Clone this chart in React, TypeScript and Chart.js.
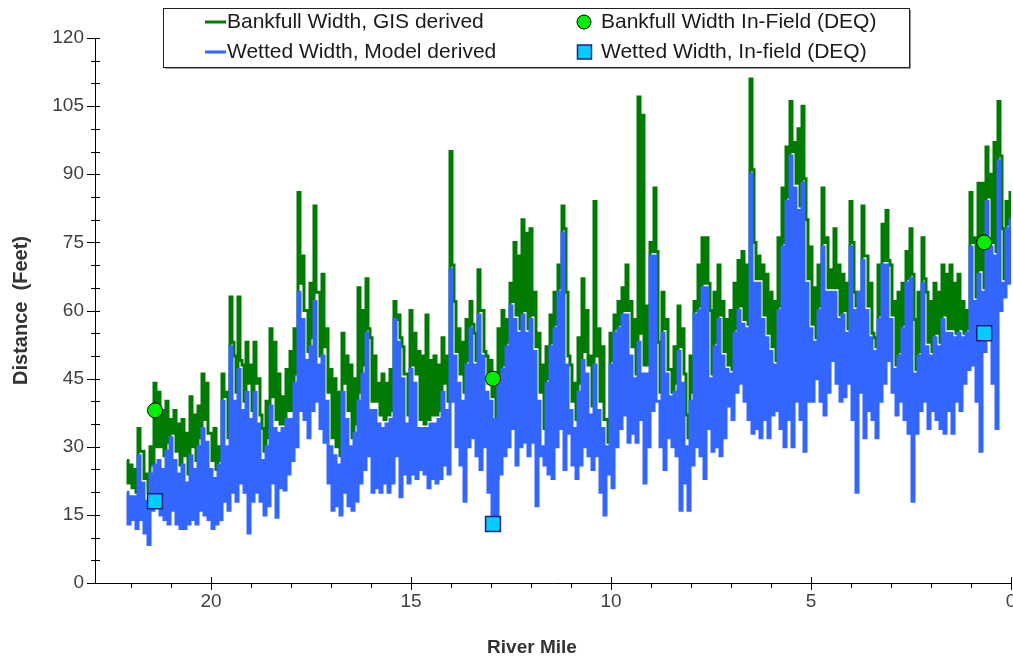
import React, { useEffect, useRef } from 'react';
import { Chart, registerables } from 'chart.js';

Chart.register(...registerables);

// River-mile sampling of the two modelled series (upstream -> downstream)
const START_MILE = 22.1;
const MILE_STEP = 0.05;

// Bankfull Width, GIS derived (feet) — one row per river mile
const bankfullGIS: number[] = [
  27, 22,
  26, 21, 25, 20, 34, 29, 29, 23, 24, 20, 30, 26, 44, 30, 42, 30, 38, 28, 40, 31,
  36, 33, 38, 29, 35, 26, 36, 28, 33, 24, 41, 30, 37, 27, 39, 32, 46, 36, 44, 33,
  33, 27, 34, 25, 30, 27, 46, 41, 42, 32, 63, 53, 50, 42, 63, 49, 48, 40, 53, 44,
  48, 38, 53, 44, 45, 37, 34, 29, 40, 32, 56, 41, 53, 36, 46, 35, 41, 35, 47, 38,
  51, 38, 56, 46, 86, 66, 72, 60, 60, 51, 66, 54, 83, 64, 64, 50, 68, 52, 56, 42,
  47, 32, 45, 30, 42, 28, 55, 44, 50, 38, 48, 32, 45, 35, 65, 42, 60, 48, 67, 56,
  54, 40, 50, 40, 44, 37, 46, 36, 44, 37, 47, 38, 62, 58, 59, 54, 52, 46, 46, 37,
  60, 48, 55, 46, 51, 36, 50, 35, 59, 36, 49, 37, 50, 37, 48, 38, 54, 44, 50, 40,
  95, 70, 62, 51, 56, 46, 53, 42, 58, 49, 62, 57, 55, 49, 69, 60, 60, 51, 50, 44,
  49, 41, 46, 23, 56, 45, 60, 48, 58, 53, 66, 62, 75, 59, 72, 56, 80, 60, 77, 56,
  78, 59, 64, 52, 55, 42, 48, 34, 52, 45, 59, 53, 64, 57, 70, 65, 83, 78, 64, 50,
  48, 40, 44, 36, 54, 44, 67, 51, 60, 48, 50, 39, 84, 50, 56, 40, 52, 36, 36, 31,
  55, 49, 59, 56, 62, 57, 65, 60, 70, 60, 62, 52, 58, 46, 107, 55, 103, 48, 61, 48,
  75, 73, 87, 73, 53, 42, 64, 56, 58, 47, 47, 42, 52, 44, 61, 52, 56, 46, 37, 32,
  50, 42, 62, 60, 70, 61, 76, 66, 76, 66, 60, 46, 64, 53, 70, 59, 62, 51, 58, 48,
  60, 47, 66, 56, 71, 61, 73, 58, 70, 57, 111, 91, 75, 67, 72, 67, 70, 59, 68, 55,
  64, 52, 62, 49, 76, 61, 87, 75, 96, 85, 106, 95, 97, 88, 100, 83, 105, 89, 80, 67,
  74, 57, 65, 54, 70, 61, 87, 75, 76, 65, 69, 65, 78, 65, 70, 59, 68, 60, 66, 56,
  84, 75, 64, 61, 64, 64, 83, 72, 72, 61, 66, 55, 54, 52, 70, 59, 79, 71, 82, 71,
  70, 59, 62, 48, 64, 51, 66, 57, 73, 67, 78, 68, 58, 47, 64, 51, 76, 67, 64, 53,
  62, 51, 66, 55, 64, 53, 70, 59, 68, 56, 70, 56, 66, 55, 68, 56, 62, 55, 60, 56,
  86, 75, 76, 63, 88, 69, 88, 65, 96, 85, 90, 75, 97, 73, 106, 94, 78, 67, 84, 79,
  86,
];

// Wetted Width, Model derived (feet)
const wettedModel: number[] = [
  20, 13,
  19, 14, 19, 12, 28, 14, 22, 11, 18, 8.5, 24, 16, 26, 18, 27, 15, 25, 14, 29, 13,
  32, 16, 27, 13, 24, 12, 26, 12, 22, 13, 28, 14, 25, 13, 30, 16, 34, 15, 31, 14,
  25, 12, 23, 13, 26, 14, 40, 18, 30, 16, 52, 20, 40, 18, 47, 22, 38, 20, 42, 11,
  36, 18, 42, 20, 35, 18, 27, 15, 30, 17, 39, 22, 34, 14.5, 33, 21, 34, 20.5, 36, 24,
  36, 27, 44, 30, 64, 38, 58, 36, 49, 32, 52, 38, 62, 40, 48, 34, 50, 31, 40, 22,
  30, 16, 28, 17, 26, 15, 42, 20, 36, 17, 30, 16, 33, 18, 40, 22, 46, 25, 55, 28,
  38, 20, 38, 21, 35, 20, 34, 22, 35, 20, 36, 22, 58, 28, 53, 19, 45, 24, 35, 22,
  47, 24, 44, 23, 34, 25, 34, 24, 34, 21, 35, 23, 35, 22, 36, 23, 42, 26, 38, 24,
  69, 40, 50, 30, 44, 26, 40, 18, 48, 30, 56, 32, 48, 28, 59, 25, 50, 30, 42, 20,
  40, 15, 36, 14, 44, 24, 47, 28, 52, 30, 61, 34, 58, 26, 55, 30, 59, 31, 55, 28,
  58, 31, 51, 17, 40, 28, 30, 26, 44, 24, 52, 23, 56, 30, 64, 34, 77, 25, 48, 33,
  38, 26, 34, 23, 42, 26, 49, 30, 46, 28, 37, 25, 48, 28, 38, 20, 34, 15, 30, 24,
  48, 21, 55, 30, 56, 34, 59, 37, 59, 31, 50, 33, 45, 31, 53, 36, 46, 22, 46, 30,
  72, 38, 72, 40, 40, 30, 55, 25, 46, 32, 41, 30, 42, 28, 51, 16, 44, 22, 30, 16,
  40, 26, 59, 30, 60, 28, 65, 23, 65, 34, 45, 29, 52, 30, 58, 28, 50, 32, 47, 39,
  46, 36, 55, 42, 60, 44, 57, 40, 56, 36, 90, 33, 66, 34, 66, 32, 58, 36, 54, 32,
  51, 37, 48, 38, 60, 34, 74, 30, 84, 36, 94, 30, 87, 40, 82, 36, 88, 29, 66, 40,
  56, 40, 53, 45, 60, 40, 74, 37, 64, 42, 64, 49, 64, 44, 58, 40, 59, 41, 55, 44,
  74, 36, 60, 20, 64, 42, 71, 32, 60, 38, 54, 36, 51, 32, 58, 40, 70, 44, 70, 49,
  58, 42, 47, 37, 50, 40, 56, 36, 66, 33, 67, 18, 46, 33, 50, 38, 66, 40, 52, 34,
  50, 38, 54, 36, 52, 34, 58, 33, 55, 38, 55, 33, 54, 40, 55, 38, 54, 44, 55, 47,
  74, 48, 62, 40, 68, 29, 64, 51, 84, 56, 74, 44, 72, 34, 93, 60, 66, 63, 78, 66,
  80,
];

// In-field (DEQ) measurements
const fieldMiles: number[] = [21.4, 12.95, 0.67];
const bankfullField: number[] = [38, 45, 75];
const wettedField: number[] = [18, 13, 55];

const legendLabels: string[] = [
  'Bankfull Width, GIS derived',
  'Wetted Width, Model derived',
  'Bankfull Width In-Field (DEQ)',
  'Wetted Width, In-field (DEQ)',
];

const X_MAX = 22.9;
const Y_MAX = 120;
const Y_STEP = 15;
const X_STEP = 5;

const GREEN = 'rgb(0,122,0)';
const BLUE = 'rgb(51,102,255)';
const FONT = '"Liberation Sans", Arial, sans-serif';

const riverMiles = bankfullGIS.map((_, i) => +(START_MILE - i * MILE_STEP).toFixed(2));

const decorPlugin = {
  id: 'decor',
  afterDraw(chart: any) {
    const ctx: CanvasRenderingContext2D = chart.ctx;
    const xs = chart.scales.x;
    const ys = chart.scales.y;
    const a = chart.chartArea;
    ctx.save();
    ctx.strokeStyle = '#000';
    ctx.lineWidth = 1;
    // y tick marks (major + minor)
    for (let v = 0; v <= Y_MAX; v += 5) {
      const y = Math.round(ys.getPixelForValue(v)) + 0.5;
      const major = v % Y_STEP === 0;
      ctx.beginPath();
      ctx.moveTo(a.left - (major ? 8 : 4), y);
      ctx.lineTo(a.left + 5, y);
      ctx.stroke();
    }
    // x tick marks
    for (let m = 0; m <= 22; m += 1) {
      const x = Math.round(xs.getPixelForValue(m)) + 0.5;
      const major = m % X_STEP === 0;
      ctx.beginPath();
      ctx.moveTo(x, major ? a.bottom - 6 : a.bottom);
      ctx.lineTo(x, a.bottom + (major ? 7 : 5));
      ctx.stroke();
    }
    // axis titles
    ctx.fillStyle = '#333';
    ctx.font = `bold 19px ${FONT}`;
    ctx.textAlign = 'center';
    ctx.textBaseline = 'middle';
    ctx.fillText('River Mile', 532, 648);
    ctx.save();
    ctx.translate(21, (a.top + a.bottom) / 2);
    ctx.rotate(-Math.PI / 2);
    ctx.font = `bold 20px ${FONT}`;
    ctx.fillText('Distance  (Feet)', 0, 0);
    ctx.restore();

    // legend box
    ctx.fillStyle = '#fff';
    ctx.fillRect(164, 9, 745, 57);
    ctx.strokeStyle = '#999';
    ctx.beginPath();
    ctx.moveTo(910.5, 10); ctx.lineTo(910.5, 68.5); ctx.lineTo(165, 68.5);
    ctx.stroke();
    ctx.strokeStyle = '#222';
    ctx.strokeRect(163.5, 8.5, 746, 59);

    const row1 = 22;
    const row2 = 52;
    ctx.lineWidth = 3;
    ctx.strokeStyle = GREEN;
    ctx.beginPath(); ctx.moveTo(205, row1); ctx.lineTo(226, row1); ctx.stroke();
    ctx.strokeStyle = BLUE;
    ctx.beginPath(); ctx.moveTo(205, row2); ctx.lineTo(226, row2); ctx.stroke();

    ctx.lineWidth = 1;
    ctx.fillStyle = '#00ee00';
    ctx.strokeStyle = '#000';
    ctx.beginPath(); ctx.arc(584, row1, 7, 0, Math.PI * 2); ctx.fill(); ctx.stroke();
    ctx.fillStyle = '#00ccff';
    ctx.strokeStyle = '#1a237e';
    ctx.lineWidth = 1.5;
    ctx.fillRect(577.5, row2 - 7, 14, 14);
    ctx.strokeRect(577.5, row2 - 7, 14, 14);

    ctx.fillStyle = '#1a1a1a';
    ctx.font = `21px ${FONT}`;
    ctx.textAlign = 'left';
    ctx.fillText(legendLabels[0], 227, row1);
    ctx.fillText(legendLabels[1], 227, row2);
    ctx.fillText(legendLabels[2], 601, row1);
    ctx.fillText(legendLabels[3], 601, row2);
    ctx.restore();
  },
};

export default function App() {
  const ref = useRef<HTMLCanvasElement | null>(null);
  useEffect(() => {
    if (!ref.current) return;
    const green = bankfullGIS.map((v, i) => ({ x: riverMiles[i], y: v }));
    const blue = wettedModel.map((v, i) => ({ x: riverMiles[i], y: v }));
    const bf = fieldMiles.map((m, i) => ({ x: m, y: bankfullField[i] }));
    const wf = fieldMiles.map((m, i) => ({ x: m, y: wettedField[i] }));
    const tickFont = { family: FONT, size: 19 };
    const chart = new Chart(ref.current, {
      type: 'line',
      data: {
        datasets: [
          {
            type: 'scatter', label: legendLabels[2], data: bf,
            pointStyle: 'circle', pointRadius: 7.5, backgroundColor: '#00ee00',
            borderColor: '#000', borderWidth: 1, showLine: false,
          } as any,
          {
            type: 'scatter', label: legendLabels[3], data: wf,
            pointStyle: 'rect', pointRadius: 10.5, backgroundColor: '#00ccff',
            borderColor: '#1a237e', borderWidth: 1.5, showLine: false,
          } as any,
          {
            label: legendLabels[1], data: blue, borderColor: BLUE,
            borderWidth: 3, pointRadius: 0, tension: 0, fill: false, stepped: 'middle',
          },
          {
            label: legendLabels[0], data: green, borderColor: GREEN,
            borderWidth: 3, pointRadius: 0, tension: 0, fill: false, stepped: 'middle',
          },
        ],
      },
      options: {
        animation: false,
        responsive: false,
        devicePixelRatio: 1,
        layout: { autoPadding: false, padding: { top: 38, right: 2, bottom: 0, left: 0 } },
        plugins: { legend: { display: false }, tooltip: { enabled: false } },
        scales: {
          x: {
            type: 'linear', reverse: true, min: 0, max: X_MAX,
            ticks: { stepSize: X_STEP, includeBounds: false, padding: 7, font: tickFont, color: '#404040', maxRotation: 0, autoSkip: false },
            grid: { display: false, drawTicks: false },
            border: { display: true, color: '#000', width: 1 },
            afterFit(s: any) { s.height = 77; s.paddingLeft = 0; s.paddingRight = 0; },
          },
          y: {
            min: 0, max: Y_MAX,
            ticks: { stepSize: Y_STEP, padding: 11, font: tickFont, color: '#404040' },
            grid: { display: false, drawTicks: false },
            border: { display: true, color: '#000', width: 1 },
            afterFit(s: any) { s.width = 95; s.paddingTop = 0; s.paddingBottom = 0; },
          },
        },
      },
      plugins: [decorPlugin],
    });
    return () => chart.destroy();
  }, []);
  return (
    <div style={{ position: 'absolute', left: 0, top: 0, width: 1013, height: 660, background: '#fff' }}>
      <canvas ref={ref} width={1013} height={660} style={{ width: 1013, height: 660 }} />
    </div>
  );
}
